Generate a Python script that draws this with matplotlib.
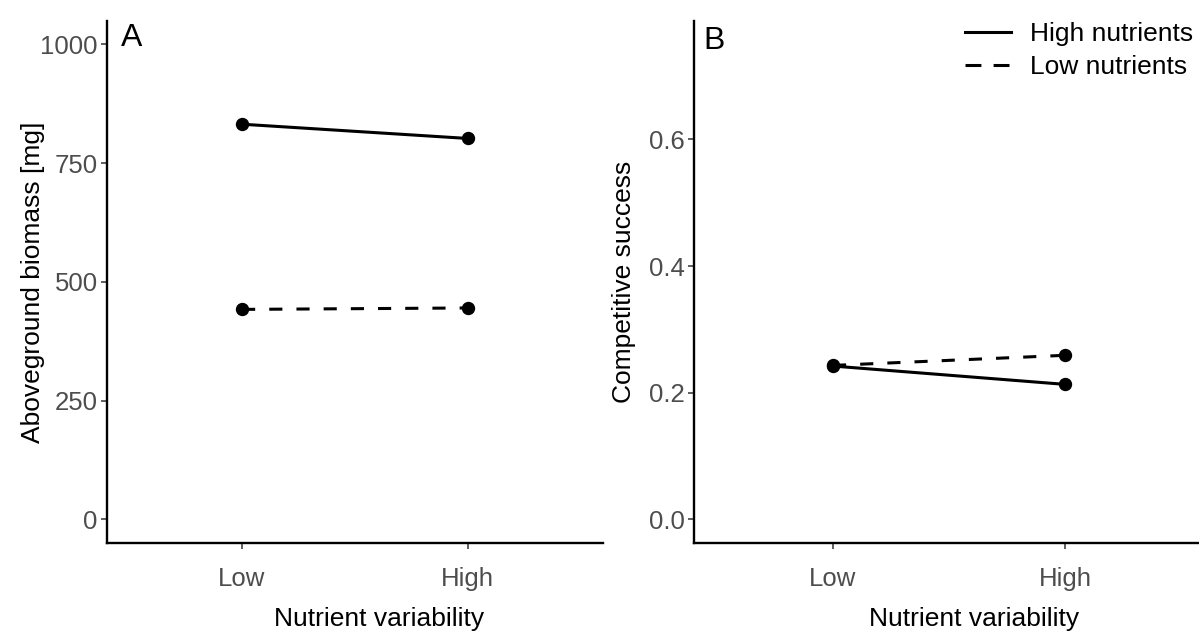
import matplotlib
matplotlib.use("Agg")
import matplotlib.pyplot as plt
from matplotlib.lines import Line2D

plt.rcParams['font.family'] = ['Liberation Sans', 'DejaVu Sans']

# ---- data ----
variability = ["Low", "High"]
biomass_high_nutr = [832, 802]
biomass_low_nutr = [442, 445]
success_high_nutr = [0.242, 0.213]
success_low_nutr = [0.243, 0.259]
series_labels = ["High nutrients", "Low nutrients"]

W, H = 1199, 632
fig = plt.figure(figsize=(W / 100, H / 100), dpi=100)

def px_axes(left, right, top, bottom):
    return fig.add_axes([left / W, (H - bottom) / H, (right - left) / W, (bottom - top) / H])

axA = px_axes(106.7, 603, 20.7, 543)
axB = px_axes(693.5, 1205, 20.7, 543)

grey = "#4D4D4D"
lw = 2.2
ms = 8.6
dash = (0, (4.3, 4.6))
fs_tick = 18.5
fs_lab = 19

def style(ax):
    for s in ["top", "right"]:
        ax.spines[s].set_visible(False)
    for s in ["left", "bottom"]:
        ax.spines[s].set_linewidth(1.7)
        ax.spines[s].set_color("black")
    ax.tick_params(axis="both", length=4.5, width=1.1, color="#333333",
                   labelcolor=grey, labelsize=fs_tick)
    ax.tick_params(axis="y", pad=2)
    ax.tick_params(axis="x", pad=13)
    ax.set_xlim(0.4, 2.6)
    ax.set_xticks([1, 2])
    ax.set_xticklabels(variability)
    ax.set_xlabel("Nutrient variability", fontsize=fs_lab, color="black")
    ax.xaxis.set_label_coords(0.549, -0.123)

x = [1, 2]

# Panel A
axA.plot(x, biomass_high_nutr, color="black", lw=lw, marker="o", ms=ms, solid_capstyle="butt")
axA.plot(x, biomass_low_nutr, color="black", lw=lw, marker="o", ms=ms, linestyle=dash)
style(axA)
axA.set_ylim(-50, 1050)
axA.set_yticks([0, 250, 500, 750, 1000])
axA.set_ylabel("Aboveground biomass [mg]", fontsize=fs_lab, color="black")
axA.yaxis.set_label_coords(-0.125, 0.5)
axA.text(120.7 / W, (H - 23) / H, "A", transform=fig.transFigure, fontsize=23,
         ha="left", va="top")

# Panel B
axB.plot(x, success_high_nutr, color="black", lw=lw, marker="o", ms=ms, solid_capstyle="butt")
axB.plot(x, success_low_nutr, color="black", lw=lw, marker="o", ms=ms, linestyle=dash)
style(axB)
axB.set_ylim(-0.0375, 0.7875)
axB.set_yticks([0.0, 0.2, 0.4, 0.6])
axB.set_yticklabels(["0.0", "0.2", "0.4", "0.6"])
axB.set_ylabel("Competitive success", fontsize=fs_lab, color="black")
axB.yaxis.set_label_coords(-0.113, 0.5)
axB.text(703 / W, (H - 26) / H, "B", transform=fig.transFigure, fontsize=23,
         ha="left", va="top")

handles = [Line2D([], [], color="black", lw=lw, linestyle="-"),
           Line2D([], [], color="black", lw=lw, linestyle=(0, (5.2, 4.0)))]
fig.legend(handles, series_labels, loc="upper left",
           bbox_to_anchor=(965 / W, (H - 22) / H), frameon=False, fontsize=19,
           handlelength=1.75, handletextpad=0.7, labelspacing=0.35, borderpad=0,
           borderaxespad=0)

fig.savefig("out.png", dpi=100)
